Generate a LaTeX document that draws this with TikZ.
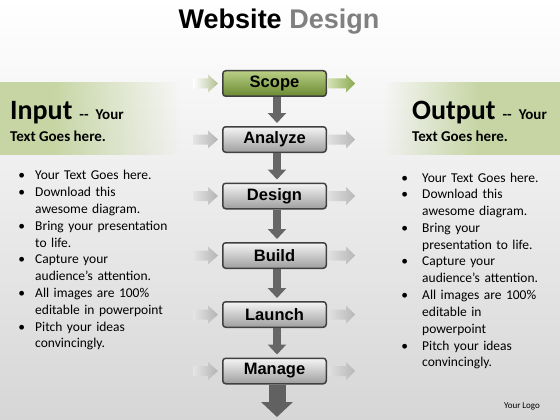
\documentclass[tikz,border=0pt]{standalone}
\usepackage{fontspec}
\usepackage{enumitem}
\setmainfont{Carlito}
\newfontfamily\arialfont{Liberation Sans}
\usetikzlibrary{arrows.meta, fadings}

\definecolor{bandgreen}{HTML}{C6D5A3}
\definecolor{lightgreen}{HTML}{B9CF85}
\definecolor{darkgreen}{HTML}{6A8A32}
\definecolor{arrowgreen}{HTML}{8AAA52}

\tikzset{
  stagebox/.style={draw=black!75, line width=1.5pt, rounded corners=3pt,
    minimum width=103.5pt, minimum height=25.5pt, inner sep=0pt,
    top color=black!4, bottom color=black!38,
    font=\arialfont\bfseries\fontsize{16.5}{18}\selectfont},
  scopebox/.style={stagebox, top color=lightgreen, bottom color=darkgreen},
  downarrow/.style={draw=black!60, line width=8pt,
    -{Triangle[width=18pt,length=10pt]}, shorten >=3pt},
  bulletlist/.style={anchor=north west, inner sep=0pt, align=left,
    font=\fontsize{13.5}{16.8}\selectfont}
}

\begin{document}
\begin{tikzpicture}[x=1pt, y=-1pt]
  \useasboundingbox (0,0) rectangle (560,420);

  % Фон
  \shade[top color=white, bottom color=black!16] (0,0) rectangle (560,420);

  % Зелёные полосы
  \fill[bandgreen] (0,82) rectangle (50,155);
  \fill[bandgreen, path fading=east] (50,82) rectangle (180,155);
  \fill[bandgreen, path fading=west] (385,82) rectangle (480,155);
  \fill[bandgreen] (480,82) rectangle (560,155);

  % Заголовок
  \node[font=\arialfont\bfseries\fontsize{27}{30}\selectfont] (title) at (279,22)
    {Website \textcolor{black!50}{Design}};

  % Этапы
  \node[scopebox] (scope) at (274.5,83.5) {Scope};
  \node[stagebox] (analyze) at (274.5,139.5) {Analyze};
  \node[stagebox] (design) at (274.5,196) {Design};
  \node[stagebox] (build) at (274.5,255.5) {Build};
  \node[stagebox] (launch) at (274.5,314.5) {Launch};
  \node[stagebox] (manage) at (274.5,371) {Manage};
  \coordinate (end) at (277,417);

  % Стрелки вниз
  \draw[downarrow] ([xshift=2.5pt]scope.south) -- ([xshift=2.5pt]analyze.north);
  \draw[downarrow] ([xshift=2.5pt]analyze.south) -- ([xshift=2.5pt]design.north);
  \draw[downarrow] ([xshift=2.5pt]design.south) -- ([xshift=2.5pt]build.north);
  \draw[downarrow] ([xshift=2.5pt]build.south) -- ([xshift=2.5pt]launch.north);
  \draw[downarrow] ([xshift=2.5pt]launch.south) -- ([xshift=2.5pt]manage.north);
  \draw[draw=black!62, line width=17pt, -{Triangle[width=31pt,length=15pt]}]
    ([xshift=2.5pt]manage.south) -- (end);

  % Боковые стрелки
  \shade[left color=white, right color=bandgreen!90!black]
    ([shift={(-29,-5)}]scope.west) -- ++(15,0) -- ++(0,-4) -- ++(10,9)
    -- ++(-10,9) -- ++(0,-4) -- ++(-15,0) -- cycle;
  \shade[left color=lightgreen!60, right color=arrowgreen]
    ([shift={(1,-5)}]scope.east) -- ++(18,0) -- ++(0,-4) -- ++(9,9)
    -- ++(-9,9) -- ++(0,-4) -- ++(-18,0) -- cycle;
  \foreach \n in {analyze,design,build,launch,manage} {
    \shade[left color=white!90!black, right color=black!30]
      ([shift={(-29,-5)}]\n.west) -- ++(15,0) -- ++(0,-4) -- ++(10,9)
      -- ++(-10,9) -- ++(0,-4) -- ++(-15,0) -- cycle;
    \shade[left color=black!12, right color=black!28]
      ([shift={(1,-5)}]\n.east) -- ++(18,0) -- ++(0,-4) -- ++(9,9)
      -- ++(-9,9) -- ++(0,-4) -- ++(-18,0) -- cycle;
  }

  % Вход и выход
  \node[anchor=base west, inner sep=0pt] (input) at (10,119)
    {\fontsize{28}{30}\selectfont\bfseries Input\hspace{7pt}\fontsize{15}{17}\selectfont -{}-\hspace{7pt}Your};
  \node[anchor=base west, inner sep=0pt, font=\fontsize{15}{17}\selectfont\bfseries] (inputtext) at (10,141)
    {Text Goes here.};
  \node[anchor=base west, inner sep=0pt] (output) at (412,119)
    {\fontsize{28}{30}\selectfont\bfseries Output\hspace{7pt}\fontsize{15}{17}\selectfont -{}-\hspace{7pt}Your};
  \node[anchor=base west, inner sep=0pt, font=\fontsize{15}{17}\selectfont\bfseries] (outputtext) at (412,141)
    {Text Goes here.};

  % Списки
  \node[bulletlist, text width=175pt] (inputlist) at (14,163) {%
    \begin{itemize}[nosep, leftmargin=21pt, labelsep=10pt, label=\textbullet]
      \item Your Text Goes here.
      \item Download this\newline awesome diagram.
      \item Bring your presentation\newline to life.
      \item Capture your\newline audience’s attention.
      \item All images are 100\%\newline editable in powerpoint
      \item Pitch your ideas\newline convincingly.
    \end{itemize}};
  \node[bulletlist, text width=155pt] (outputlist) at (397,165) {%
    \begin{itemize}[nosep, leftmargin=25pt, labelsep=14pt, label=\textbullet]
      \item Your Text Goes here.
      \item Download this\newline awesome diagram.
      \item Bring your\newline presentation to life.
      \item Capture your\newline audience’s attention.
      \item All images are 100\%\newline editable in\newline powerpoint
      \item Pitch your ideas\newline convincingly.
    \end{itemize}};

  \node[font=\fontsize{9}{10}\selectfont] (logo) at (522,406) {Your Logo};
\end{tikzpicture}
\end{document}
